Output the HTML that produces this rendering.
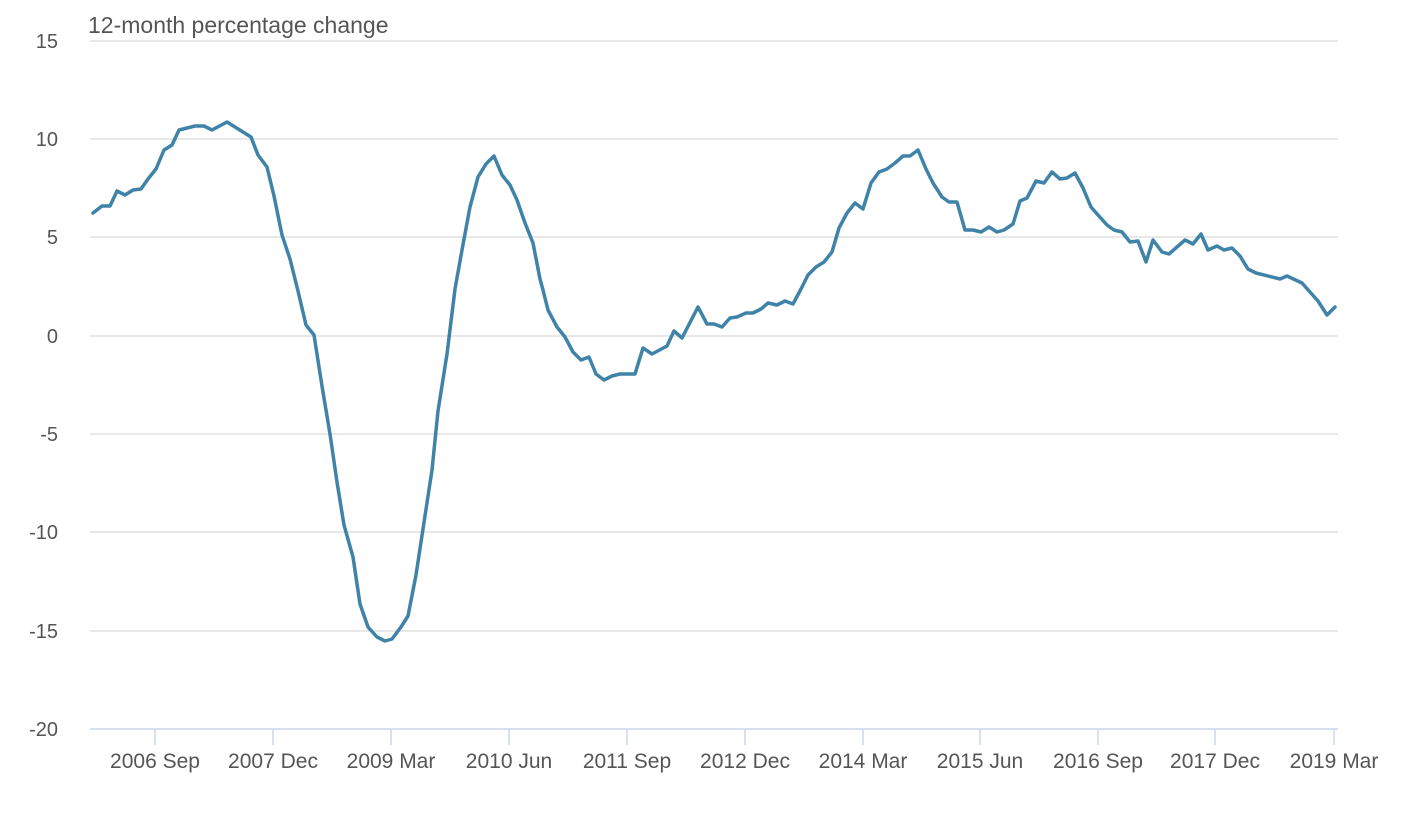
<!DOCTYPE html>
<html><head><meta charset="utf-8"><style>
body{margin:0;background:#fff}
text{font-family:"Liberation Sans",sans-serif;fill:#555}
</style></head><body>
<svg width="1404" height="810" xmlns="http://www.w3.org/2000/svg">
<text x="88" y="33" font-size="23" fill="#666">12-month percentage change</text>
<g stroke="#e0e0e0" stroke-width="1.5">
<line x1="90" y1="41" x2="1338" y2="41"/><line x1="90" y1="139" x2="1338" y2="139"/>
<line x1="90" y1="237" x2="1338" y2="237"/><line x1="90" y1="336" x2="1338" y2="336"/>
<line x1="90" y1="434" x2="1338" y2="434"/><line x1="90" y1="532" x2="1338" y2="532"/>
<line x1="90" y1="631" x2="1338" y2="631"/>
</g>
<line x1="90" y1="729" x2="1338" y2="729" stroke="#ccd6eb" stroke-width="1.5"/>
<g stroke="#ccd6eb" stroke-width="1.5">
<line x1="155" y1="729" x2="155" y2="745"/><line x1="273" y1="729" x2="273" y2="745"/>
<line x1="391" y1="729" x2="391" y2="745"/><line x1="509" y1="729" x2="509" y2="745"/>
<line x1="627" y1="729" x2="627" y2="745"/><line x1="745" y1="729" x2="745" y2="745"/>
<line x1="863" y1="729" x2="863" y2="745"/><line x1="980" y1="729" x2="980" y2="745"/>
<line x1="1098" y1="729" x2="1098" y2="745"/><line x1="1215" y1="729" x2="1215" y2="745"/>
<line x1="1334" y1="729" x2="1334" y2="745"/>
</g>
<g font-size="20" text-anchor="end">
<text x="58" y="48">15</text><text x="58" y="146">10</text><text x="58" y="244">5</text>
<text x="58" y="343">0</text><text x="58" y="441">-5</text><text x="58" y="539">-10</text>
<text x="58" y="638">-15</text><text x="58" y="736">-20</text>
</g>
<g font-size="21" text-anchor="middle">
<text x="155" y="768">2006 Sep</text><text x="273" y="768">2007 Dec</text><text x="391" y="768">2009 Mar</text>
<text x="509" y="768">2010 Jun</text><text x="627" y="768">2011 Sep</text><text x="745" y="768">2012 Dec</text>
<text x="863" y="768">2014 Mar</text><text x="980" y="768">2015 Jun</text><text x="1098" y="768">2016 Sep</text>
<text x="1215" y="768">2017 Dec</text><text x="1334" y="768">2019 Mar</text>
</g>
<polyline fill="none" stroke="#4083a8" stroke-width="3.5" stroke-linejoin="round" stroke-linecap="round" points="93,213 102,206 110,206 117,191 125,195 133,190 141,189 148,179 156,169 164,150 172,145 179,130 195,126 204,126 212,130 227,122 235,127 243,132 251,137 258,155 267,167 274,196 282,235 290,259 298,291 306,325 314,335 322,386 330,434 337,482 344,525 353,557 360,604 368,627 377,637 385,641 392,639 401,627 408,616 416,575 423,529 432,470 438,411 447,354 455,289 462,250 470,207 478,177 486,164 494,156 502,175 510,185 517,200 525,223 533,243 540,279 543,290 548,310 557,327 565,337 573,352 581,360 589,357 596,374 604,380 612,376 620,374 635,374 643,348 652,354 667,346 674,331 682,338 698,307 707,324 714,324 722,327 730,318 737,317 746,313 753,313 761,309 768,303 777,305 785,301 793,304 801,289 808,275 816,267 824,262 832,252 839,228 847,213 855,203 863,209 871,183 879,172 887,169 895,163 903,156 910,156 918,150 926,169 933,183 942,197 949,202 957,202 965,230 973,230 981,232 989,227 997,232 1004,230 1013,224 1020,201 1027,198 1036,181 1044,183 1052,172 1060,179 1067,178 1075,173 1083,188 1091,207 1098,215 1107,225 1114,230 1122,232 1130,242 1138,241 1146,262 1153,240 1162,252 1169,254 1177,247 1185,240 1193,244 1201,234 1208,250 1217,246 1224,250 1232,248 1240,256 1248,269 1256,273 1280,279 1287,276 1302,283 1310,292 1318,301 1327,315 1335,307"/>
</svg>
</body></html>
